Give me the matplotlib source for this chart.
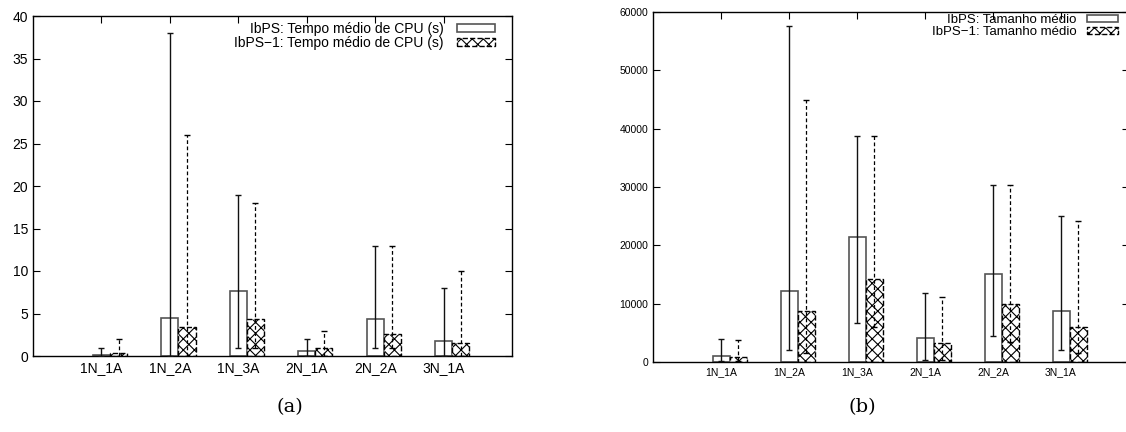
import numpy as np
import matplotlib
matplotlib.use("Agg")
import matplotlib.pyplot as plt
from matplotlib.patches import Patch

plt.rcParams['font.family'] = ['Liberation Sans', 'DejaVu Sans']
plt.rcParams['hatch.linewidth'] = 0.8

categories = ['1N_1A', '1N_2A', '1N_3A', '2N_1A', '2N_2A', '3N_1A']

# (a) tempo medio de CPU (s)
cpu_ibps = [0.15, 4.5, 7.7, 0.6, 4.4, 1.8]
cpu_ibps_min = [0, 0, 1, 0, 1, 0]
cpu_ibps_max = [1, 38, 19, 2, 13, 8]
cpu_ibps1 = [0.3, 3.4, 4.3, 0.9, 2.6, 1.5]
cpu_ibps1_min = [0, 0, 1, 0, 1, 0]
cpu_ibps1_max = [2, 26, 18, 3, 13, 10]

# (b) tamanho medio
size_ibps = [1100, 12200, 21400, 4200, 15100, 8700]
size_ibps_min = [100, 2000, 6700, 400, 4400, 2000]
size_ibps_max = [3900, 57600, 38800, 11800, 30400, 25000]
size_ibps1 = [850, 8700, 14200, 3250, 10000, 6000]
size_ibps1_min = [100, 1500, 6000, 300, 3500, 1500]
size_ibps1_max = [3700, 44900, 38800, 11100, 30400, 24100]

HATCH = 'xxx'


def draw_panel(ax, m1, lo1, hi1, m2, lo2, hi2, labels, ymax, ystep, fs, lfs, leg):
    x = np.arange(1, len(categories) + 1)
    w = 0.25
    ax.bar(x, m1, w, color='white', edgecolor='#555555', linewidth=1.2, zorder=2)
    ax.bar(x + w, m2, w, color='white', edgecolor='black', hatch=HATCH,
           linestyle='--', linewidth=1.0, zorder=2)
    m1 = np.array(m1); m2 = np.array(m2)
    ax.errorbar(x, m1, yerr=[m1 - np.array(lo1), np.array(hi1) - m1], fmt='none',
                ecolor='#111111', elinewidth=1.0, capsize=2, capthick=1.0, zorder=3)
    eb = ax.errorbar(x + w, m2, yerr=[m2 - np.array(lo2), np.array(hi2) - m2], fmt='none',
                     ecolor='black', elinewidth=0.9, capsize=2, capthick=1.0, zorder=3)
    eb[2][0].set_linestyle((0, (3, 2)))
    ax.set_xlim(0, 7)
    ax.set_ylim(0, ymax)
    ax.set_yticks(np.arange(0, ymax + 1, ystep))
    ax.set_xticks(x)
    ax.set_xticklabels(categories, fontsize=fs)
    ax.tick_params(axis='y', direction='in', right=True, labelsize=fs, length=5, width=0.8)
    ax.tick_params(axis='x', direction='in', top=True, bottom=False, length=5, width=0.8)
    for s in ax.spines.values():
        s.set_linewidth(1.0)
    h1 = Patch(facecolor='white', edgecolor='#555555', linewidth=1.2)
    h2 = Patch(facecolor='white', edgecolor='black', hatch=HATCH, linestyle='--', linewidth=1.0)
    ax.legend([h1, h2], labels, frameon=False, markerfirst=False, fontsize=lfs,
              alignment='right', loc='upper right', borderaxespad=0, borderpad=0.4, **leg)


fig = plt.figure(figsize=(11.26, 4.32), dpi=100)
ax1 = fig.add_axes([33 / 1126, 76 / 432, 479 / 1126, 340 / 432])
ax2 = fig.add_axes([653 / 1126, 70 / 432, 476 / 1126, 350 / 432])

draw_panel(ax1, cpu_ibps, cpu_ibps_min, cpu_ibps_max, cpu_ibps1, cpu_ibps1_min, cpu_ibps1_max,
           ['IbPS: Tempo médio de CPU (s)', 'IbPS\u22121: Tempo médio de CPU (s)'],
           40, 5, 10, 10,
           dict(bbox_to_anchor=(0.976, 1.0), handlelength=2.7, handleheight=0.5,
                labelspacing=0.0, handletextpad=1.0))
draw_panel(ax2, size_ibps, size_ibps_min, size_ibps_max, size_ibps1, size_ibps1_min, size_ibps1_max,
           ['IbPS: Tamanho médio', 'IbPS\u22121: Tamanho médio'],
           60000, 10000, 7.5, 9.5,
           dict(bbox_to_anchor=(0.987, 1.01), handlelength=2.3, handleheight=0.45,
                labelspacing=0.0, handletextpad=0.8))

fig.text(290 / 1126, 1 - 407 / 432, '(a)', ha='center', va='center', fontsize=14,
         family=['DejaVu Serif'])
fig.text(862 / 1126, 1 - 407 / 432, '(b)', ha='center', va='center', fontsize=14,
         family=['DejaVu Serif'])

fig.savefig('out.png', dpi=100)
